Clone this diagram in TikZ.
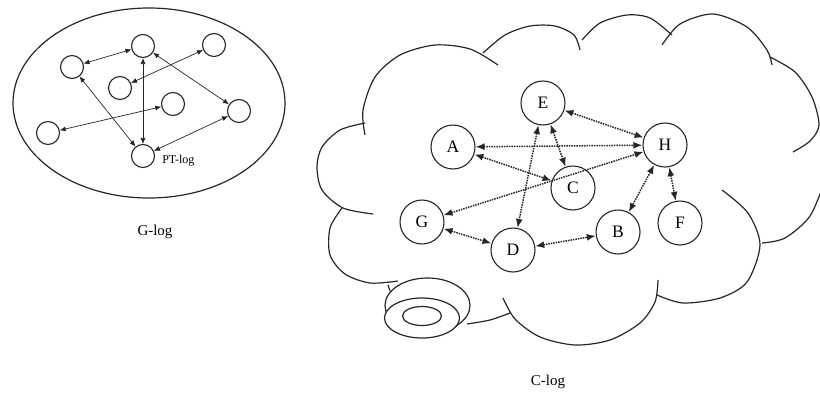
\documentclass[tikz,border=0pt]{standalone}
\usepackage{fontspec}
\setmainfont{Liberation Serif}
\usepackage{tikz}
\usetikzlibrary{positioning,arrows.meta}

\begin{document}
\begin{tikzpicture}[x=1pt, y=-1pt]
      \tikzstyle{peer}=[circle, minimum size = 23pt, inner sep=0pt, line width=1.1pt, draw=black!85]
      \tikzstyle{member}=[circle, minimum size = 44pt, inner sep=0pt, line width=1.1pt, draw=black!85, font=\fontsize{17.5}{17.5}\selectfont]
      \tikzstyle{link}=[{Latex[length=6pt,width=5pt]}-{Latex[length=6pt,width=5pt]}, line width=0.7pt, black!85]
      \tikzstyle{dlink}=[{Latex[length=9pt,width=7pt]}-{Latex[length=9pt,width=7pt]}, line width=1.5pt, black!85, dash pattern=on 1.5pt off 1pt]
      \tikzstyle{rim}=[line width=1.2pt, black!85]
      \tikzstyle{lbl}=[inner sep=1pt, font=\fontsize{15}{15}\selectfont];

      \useasboundingbox (0,0) rectangle (820,394);

      % G-log
      \draw[rim] (149,103) ellipse [x radius=136, y radius=95];

      \node[peer] (la) at (72,67) {};
      \node[peer] (lb) at (143,46) {};
      \node[peer] (lc) at (214,45) {};
      \node[peer] (ld) at (120,88) {};
      \node[peer] (le) at (173,104) {};
      \node[peer] (lf) at (239,111) {};
      \node[peer] (lg) at (48,133) {};
      \node[peer] (pt) at (143,156) {};
      \node[inner sep=0pt, font=\fontsize{12}{12}\selectfont, right=7pt of pt, yshift=-5pt] (ptlbl) {PT-log};

      \path (la) edge [link] (lb);
      \path (lc) edge [link] (ld);
      \path (le) edge [link] (lg);
      \path (la) edge [link] (pt);
      \path (lb) edge [link] (pt);
      \path (lb) edge [link] (lf);
      \path (lf) edge [link] (pt);

      \node[lbl] (glog) at (155,232) {G-log};

      % C-log cloud
      \draw[rim] plot[smooth] coordinates {(365,123) (340,130) (322,147) (317,167) (322,190) (343,208) (373,214)};
      \draw[rim] plot[smooth] coordinates {(342,208) (330,228) (330,255) (345,274) (370,283) (398,281)};
      \draw[rim] plot[smooth] coordinates {(365,135) (363,110) (375,77) (400,55) (435,45) (470,49) (498,65)};
      \draw[rim] plot[smooth] coordinates {(483,53) (505,35) (530,26) (555,26) (574,35) (580,50)};
      \draw[rim] plot[smooth] coordinates {(582,40) (600,23) (627,15) (650,18) (672,35)};
      \draw[rim] plot[smooth] coordinates {(662,45) (680,24) (713,14) (747,27) (767,50) (772,65)};
      \draw[rim] plot[smooth] coordinates {(770,57) (795,72) (812,97) (819,125) (810,141) (793,152)};
      \draw[rim] plot[smooth] coordinates {(826,178) (810,216) (785,238) (762,243)};
      \draw[rim] plot[smooth] coordinates {(722,190) (748,213) (760,245) (747,282) (720,298) (683,303) (657,295)};
      \draw[rim] plot[smooth] coordinates {(658,280) (655,302) (640,323) (610,340) (575,345) (540,337) (515,319) (503,298)};
      \draw[rim] plot[smooth] coordinates {(510,313) (490,320) (467,324)};

      % rolled end
      \draw[rim] (388,285) -- (390,291);
      \draw[rim, fill=white] (427.5,305.5) ellipse [x radius=42.5, y radius=27.5];
      \draw[rim, fill=white] (422,318) ellipse [x radius=37.5, y radius=20];
      \draw[rim] (422,316) ellipse [x radius=19.5, y radius=9.5];

      \node[member] (E) at (543,103) {E};
      \node[member] (A) at (453,147) {A};
      \node[member] (H) at (665,145) {H};
      \node[member] (C) at (573,188) {C};
      \node[member] (G) at (422,222) {G};
      \node[member] (D) at (513,250) {D};
      \node[member] (B) at (618,232) {B};
      \node[member] (F) at (680,223) {F};

      \path (E) edge [dlink] (H);
      \path (A) edge [dlink] (H);
      \path (A) edge [dlink] (C);
      \path (E) edge [dlink] (C);
      \path (E) edge [dlink] (D);
      \path (G) edge [dlink] (H);
      \path (H) edge [dlink] (B);
      \path (H) edge [dlink] (F);
      \path (G) edge [dlink] (D);
      \path (D) edge [dlink] (B);

      \node[lbl] (clog) at (548,382) {C-log};
\end{tikzpicture}
\end{document}
